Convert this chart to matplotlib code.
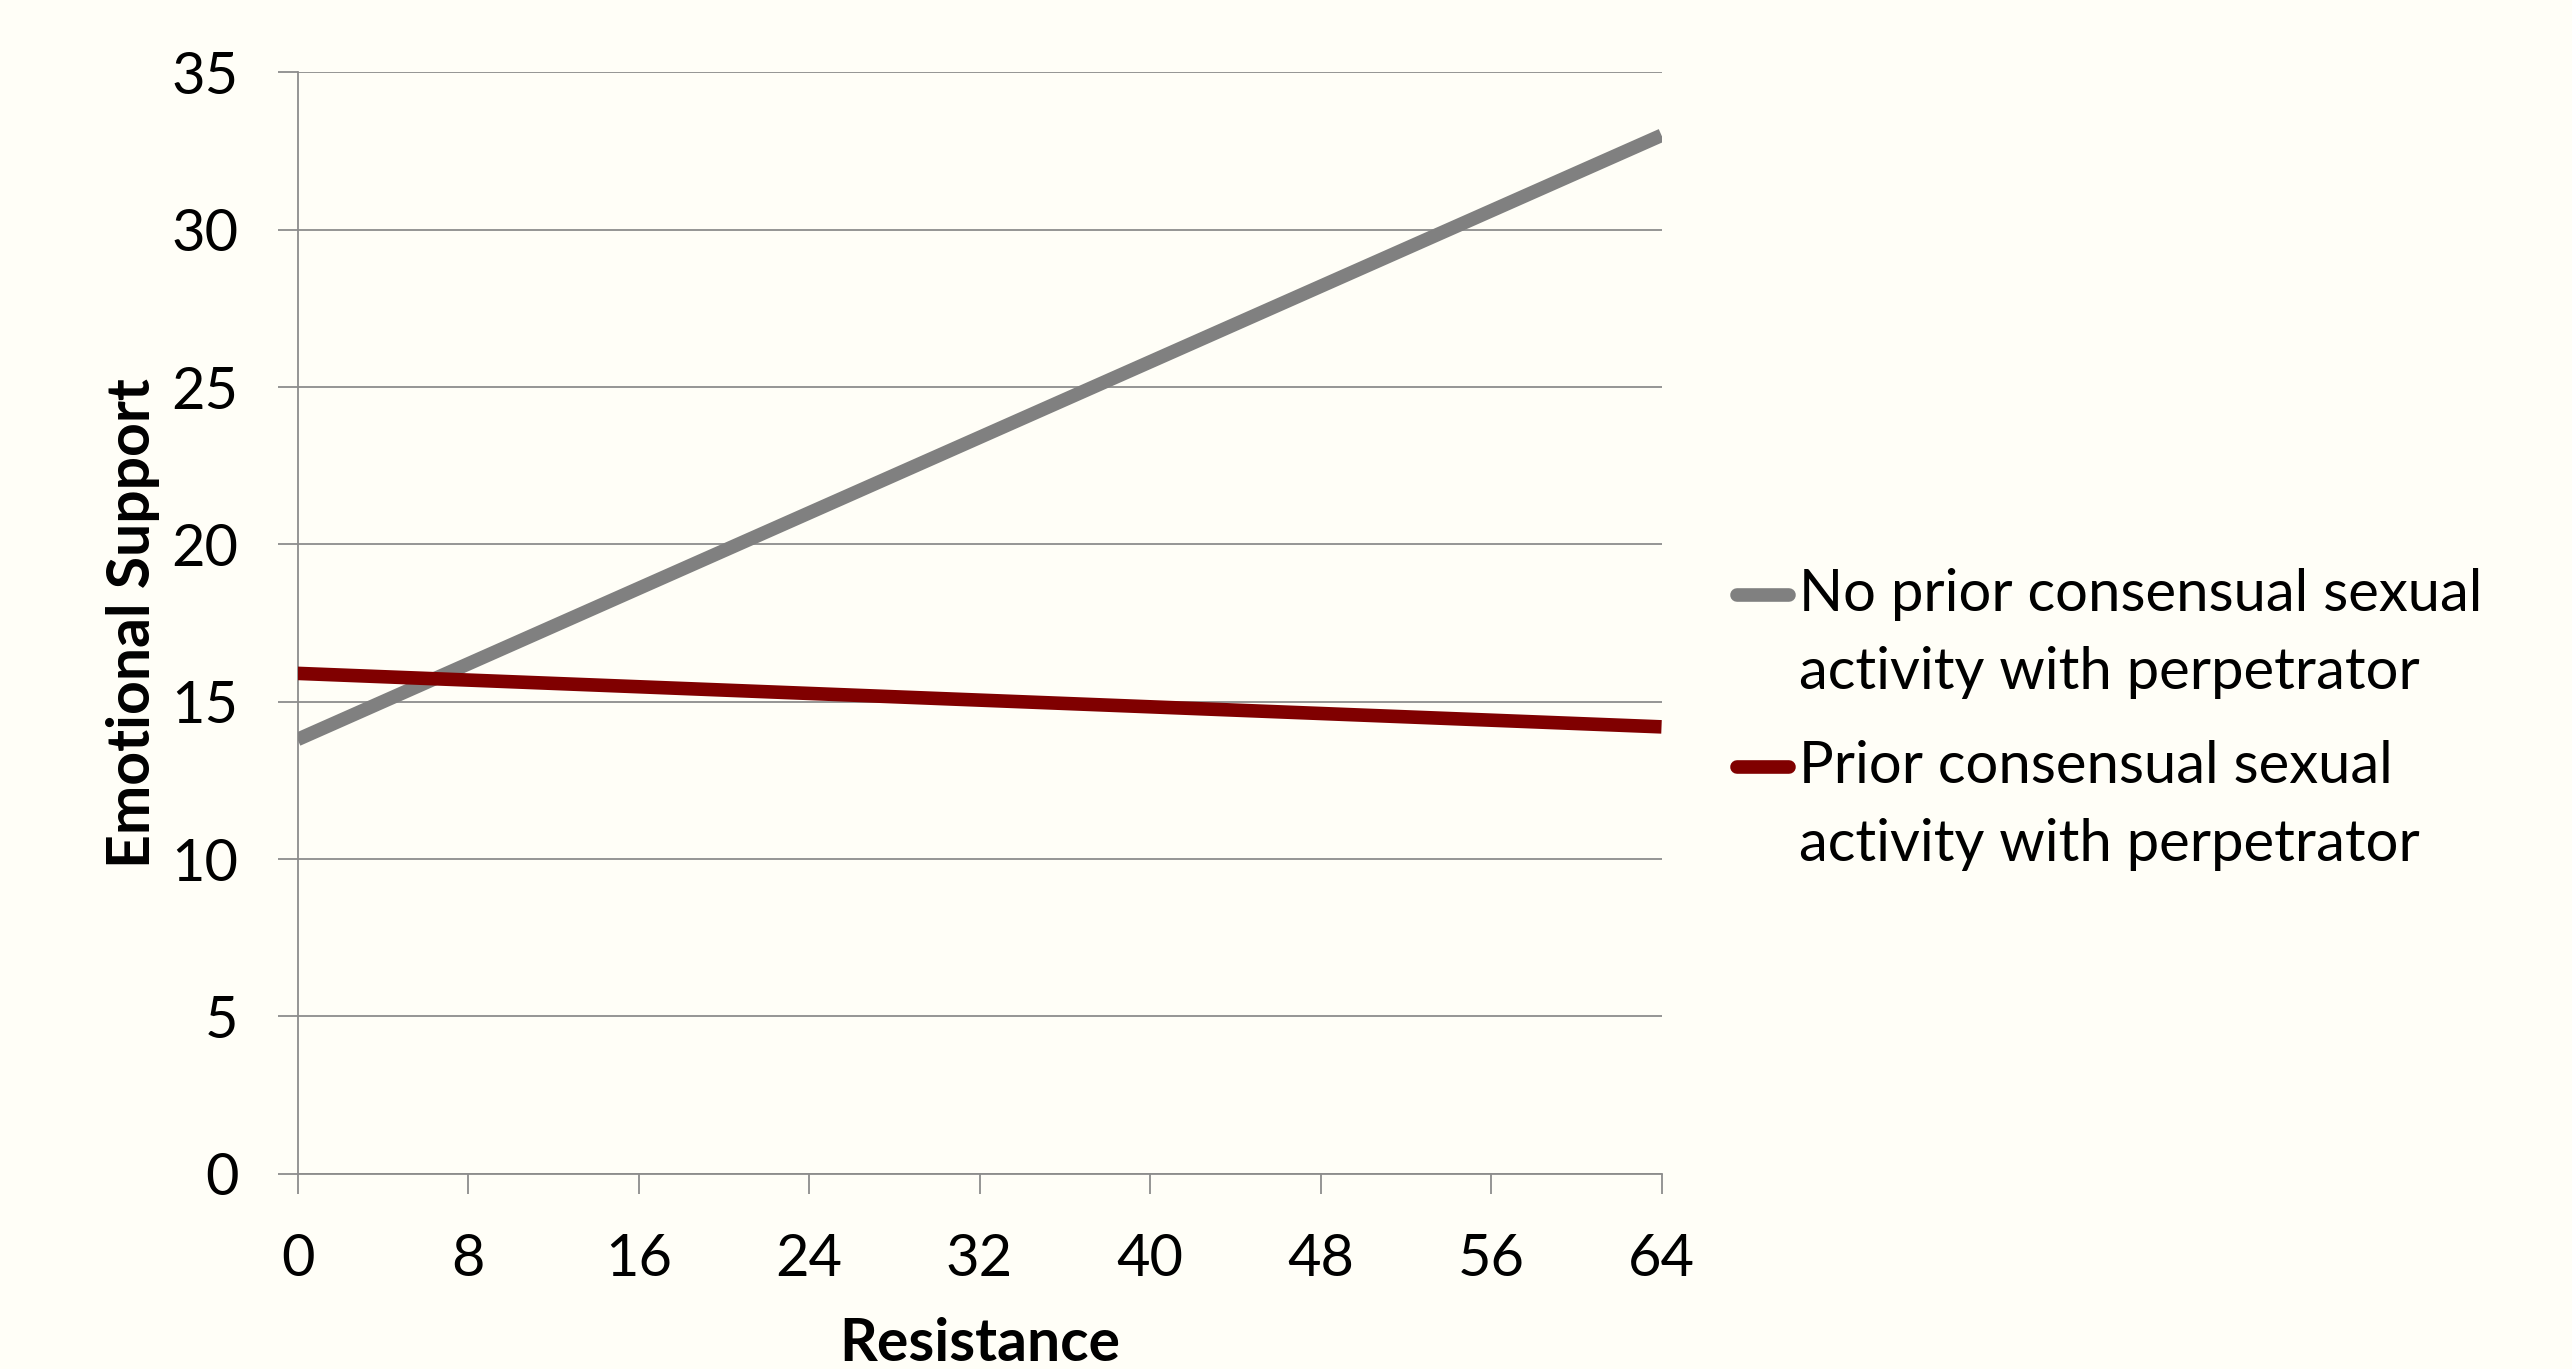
import numpy as np
import matplotlib
matplotlib.use('Agg')
import matplotlib.pyplot as plt
from matplotlib.legend_handler import HandlerLine2D

# ---- data ----
resistance = [0, 64]
no_prior = [13.8, 33.0]
prior = [15.9, 14.2]
x_ticks = [0, 8, 16, 24, 32, 40, 48, 56, 64]
y_ticks = [0, 5, 10, 15, 20, 25, 30, 35]
series_labels = ["No prior consensual sexual\nactivity with perpetrator",
                 "Prior consensual sexual\nactivity with perpetrator"]
x_title = "Resistance"
y_title = "Emotional Support"

plt.rcParams['font.family'] = ['Lato', 'DejaVu Sans']
BG = '#FFFEF7'
GRID = '#8C8C8C'
GRAY = '#808080'
RED = '#800000'


class OffsetHandler(HandlerLine2D):
    def __init__(self, dy, **kw):
        super().__init__(**kw)
        self.dy = dy

    def create_artists(self, legend, orig_handle, xdescent, ydescent,
                       width, height, fontsize, trans):
        arts = super().create_artists(legend, orig_handle, xdescent, ydescent,
                                      width, height, fontsize, trans)
        for a in arts:
            a.set_ydata(np.asarray(a.get_ydata(), dtype=float) + self.dy)
            a.set_solid_capstyle('round')
        return arts


fig = plt.figure(figsize=(12.86, 6.845), dpi=200, facecolor=BG)
ax = fig.add_axes([0.1157, 0.1427, 0.5303, 0.8044])
ax.set_facecolor(BG)

l1, = ax.plot(resistance, no_prior, color=GRAY, lw=4.9,
              solid_capstyle='butt', zorder=3)
l2, = ax.plot(resistance, prior, color=RED, lw=4.9,
              solid_capstyle='butt', zorder=3)

ax.set_xlim(0, 64)
ax.set_ylim(0, 35)
ax.set_xticks(x_ticks)
ax.set_yticks(y_ticks)
ax.yaxis.grid(True, color=GRID, lw=0.65)
ax.set_axisbelow(True)
for s in ['top', 'right']:
    ax.spines[s].set_visible(False)
for s in ['left', 'bottom']:
    ax.spines[s].set_color(GRID)
    ax.spines[s].set_linewidth(0.65)
ax.tick_params(axis='both', direction='out', length=7.2, width=0.65,
               color=GRID, labelsize=20.8, pad=14.0, labelcolor='black')

ax.set_xlabel(x_title, fontsize=21.2, fontweight='bold')
ax.set_ylabel(y_title, fontsize=21.2, fontweight='bold')
ax.xaxis.set_label_coords(0.5, -0.1300)
ax.yaxis.set_label_coords(-0.101, 0.5)

leg = fig.legend(handles=[l1, l2], labels=series_labels, loc='upper left',
                 bbox_to_anchor=(0.6753, 0.5850), bbox_transform=fig.transFigure,
                 frameon=False, borderpad=0, borderaxespad=0,
                 handlelength=0.90, handletextpad=0.17, fontsize=20.9,
                 labelspacing=0.72,
                 handler_map={l1: OffsetHandler(14.3), l2: OffsetHandler(14.3)})
for t in leg.get_texts():
    t.set_linespacing(1.57)

fig.savefig('out.png', dpi=200, facecolor=BG)
